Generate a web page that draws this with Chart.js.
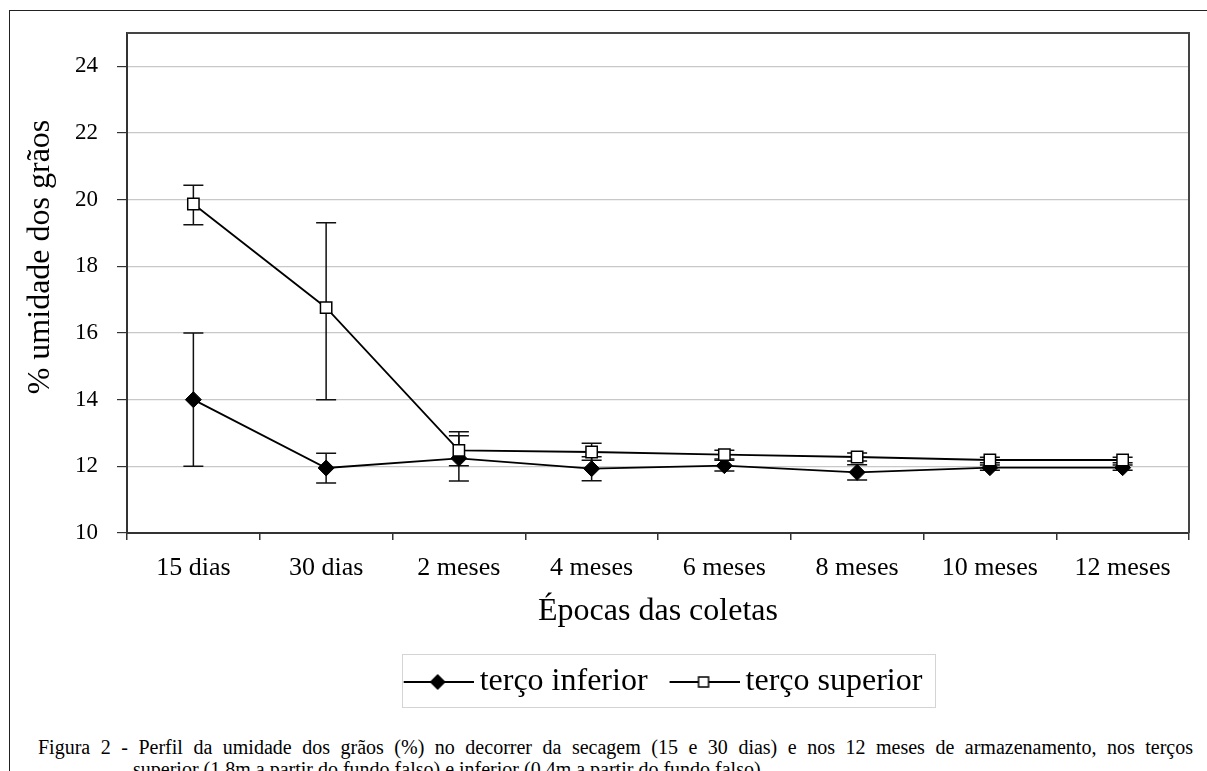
<!DOCTYPE html>
<html lang="pt">
<head>
<meta charset="utf-8">
<title>Perfil da umidade dos grãos</title>
<script src="https://cdn.jsdelivr.net/npm/chart.js@4.4.1/dist/chart.umd.min.js"></script>
<style>
    html, body { margin: 0; padding: 0; background: #fff; }
    body { width: 1207px; height: 771px; position: relative; overflow: hidden; font-family: "Liberation Serif", serif; }
    #frame {
        position: absolute; left: 9px; top: 10px; right: 0; bottom: 0;
        border-top: 1px solid #222; border-left: 1px solid #222;
    }
    #wrap { position: absolute; left: 0; top: 0; width: 1207px; height: 710px; }
    .caption {
        position: absolute; font-family: "Liberation Serif", serif;
        font-size: 20px; line-height: 22px; color: #000; white-space: nowrap;
    }
    #cap1 { left: 38px; top: 736px; width: 1155px; text-align: justify; text-align-last: justify; }
    #cap2 { left: 133px; top: 758px; }
</style>
</head>
<body>
<div id="frame"></div>
<div id="wrap"><canvas id="chart" width="1207" height="710"></canvas></div>
<div id="cap1" class="caption">Figura 2 - Perfil da umidade dos grãos (%) no decorrer da secagem (15 e 30 dias) e nos 12 meses de armazenamento, nos terços</div>
<div id="cap2" class="caption">superior (1,8m a partir do fundo falso) e inferior (0,4m a partir do fundo falso).</div>
<script>
// Data
const categories = ['15 dias', '30 dias', '2 meses', '4 meses', '6 meses', '8 meses', '10 meses', '12 meses'];

const inferior     = [14.0, 11.95, 12.24, 11.93, 12.02, 11.82, 11.96, 11.96];
const inferiorLow  = [12.0, 11.50, 11.56, 11.57, 11.86, 11.59, 11.88, 11.88];
const inferiorHigh = [16.0, 12.39, 12.92, 12.29, 12.18, 12.05, 12.04, 12.04];

const superior     = [19.87, 16.76, 12.48, 12.43, 12.35, 12.28, 12.19, 12.19];
const superiorLow  = [19.25, 14.0, 12.02, 12.18, 12.22, 12.16, 12.11, 12.11];
const superiorHigh = [20.43, 19.31, 13.04, 12.69, 12.48, 12.40, 12.27, 12.27];

const yTicks = [10, 12, 14, 16, 18, 20, 22, 24];
const yTitleText = '% umidade dos grãos';

const serif = 'Liberation Serif';

// Legend samples: short line with the marker in the middle
function legendSample(marker) {
    const c = document.createElement('canvas');
    c.width = 90;
    c.height = 20;
    const g = c.getContext('2d');
    g.strokeStyle = '#000';
    g.lineWidth = 1.8;
    g.beginPath();
    g.moveTo(20, 10);
    g.lineTo(90, 10);
    g.stroke();
    const cx = 54;
    if (marker === 'diamond') {
        g.fillStyle = '#000';
        g.beginPath();
        g.moveTo(cx, 2); g.lineTo(cx + 8, 10); g.lineTo(cx, 18); g.lineTo(cx - 8, 10);
        g.closePath();
        g.fill();
    } else {
        g.fillStyle = '#fff';
        g.lineWidth = 1.5;
        g.fillRect(cx - 5, 5, 10, 10);
        g.strokeRect(cx - 5, 5, 10, 10);
    }
    return c;
}

// Vertical error bars drawn through the chart's own scales
const errorBars = {
    id: 'errorBars',
    beforeDatasetsDraw(chart) {
        const { ctx, scales: { x, y } } = chart;
        ctx.save();
        ctx.strokeStyle = '#111';
        ctx.lineWidth = 1.5;
        [[inferiorLow, inferiorHigh], [superiorLow, superiorHigh]].forEach(([low, high]) => {
            categories.forEach((c, i) => {
                const px = x.getPixelForValue(i);
                const top = y.getPixelForValue(high[i]);
                const bot = y.getPixelForValue(low[i]);
                ctx.beginPath();
                ctx.moveTo(px, top); ctx.lineTo(px, bot);
                ctx.moveTo(px - 10, top); ctx.lineTo(px + 10, top);
                ctx.moveTo(px - 10, bot); ctx.lineTo(px + 10, bot);
                ctx.stroke();
            });
        });
        ctx.restore();
    }
};

// Top and right edges of the plot area, legend frame and the y title
// (the title sits higher than the axis centre in the original)
const frames = {
    id: 'frames',
    beforeDatasetsDraw(chart) {
        const { ctx, chartArea: a } = chart;
        ctx.save();
        ctx.strokeStyle = '#444';
        ctx.lineWidth = 2;
        ctx.beginPath();
        ctx.moveTo(a.left, a.top);
        ctx.lineTo(a.right, a.top);
        ctx.lineTo(a.right, a.bottom);
        ctx.stroke();
        ctx.restore();
    },
    afterDraw(chart) {
        const { ctx, chartArea: a } = chart;

        ctx.save();
        ctx.translate(chart.scales.y.left + 31, a.top + 224);
        ctx.rotate(-Math.PI / 2);
        ctx.font = '32px "Liberation Serif"';
        ctx.fillStyle = '#000';
        ctx.textAlign = 'center';
        ctx.textBaseline = 'middle';
        ctx.fillText(yTitleText, 0, 0);
        ctx.restore();

        const lg = chart.legend;
        const boxes = lg.legendHitBoxes;
        if (!boxes || !boxes.length) return;
        const first = boxes[0];
        const last = boxes[boxes.length - 1];
        const left = first.left + 20 - 12;
        const right = last.left + last.width + 12;
        ctx.save();
        ctx.strokeStyle = '#d4d4d4';
        ctx.lineWidth = 1;
        ctx.strokeRect(Math.round(left) + 0.5, Math.round(lg.top) + 0.5,
            Math.round(right - left), Math.round(lg.bottom - lg.top) - 1);
        ctx.restore();
    }
};

function drawChart() {
    const samples = [legendSample('diamond'), legendSample('square')];
    new Chart(document.getElementById('chart'), {
        type: 'line',
        data: {
            labels: categories,
            datasets: [
                {
                    label: 'terço inferior',
                    data: inferior,
                    order: 1,
                    borderColor: '#000',
                    borderWidth: 1.8,
                    pointStyle: 'rectRot',
                    pointRadius: 8,
                    pointBackgroundColor: '#000',
                    pointBorderColor: '#000',
                    pointBorderWidth: 1,
                    tension: 0,
                    fill: false
                },
                {
                    label: 'terço superior',
                    data: superior,
                    order: 0,
                    borderColor: '#000',
                    borderWidth: 1.8,
                    pointStyle: 'rect',
                    pointRadius: 8,
                    pointBackgroundColor: '#fff',
                    pointBorderColor: '#000',
                    pointBorderWidth: 1.5,
                    tension: 0,
                    fill: false
                }
            ]
        },
        options: {
            responsive: false,
            animation: false,
            layout: { padding: { top: 33, left: 10, right: 18, bottom: 2 } },
            plugins: {
                tooltip: { enabled: false },
                legend: {
                    position: 'bottom',
                    fullSize: false,
                    labels: {
                        usePointStyle: true,
                        pointStyleWidth: 70,
                        padding: 12,
                        color: '#000',
                        font: { family: serif, size: 32 },
                        generateLabels: chart => chart.data.datasets.map((ds, i) => ({
                            text: ds.label,
                            pointStyle: samples[i],
                            datasetIndex: i,
                            fillStyle: '#000',
                            strokeStyle: '#000',
                            lineWidth: 0,
                            hidden: false,
                            fontColor: '#000'
                        }))
                    }
                }
            },
            scales: {
                x: {
                    offset: true,
                    afterFit: s => { s.height = 121; },
                    grid: { drawOnChartArea: false, offset: true, tickLength: 7, tickColor: '#333', lineWidth: 1.5 },
                    border: { color: '#333', width: 2 },
                    ticks: { color: '#000', font: { family: serif, size: 26 }, padding: 13, maxRotation: 0, autoSkip: false },
                    title: {
                        display: true,
                        text: 'Épocas das coletas',
                        color: '#000',
                        font: { family: serif, size: 32 },
                        padding: { top: 0, bottom: 23 }
                    }
                },
                y: {
                    min: 10,
                    max: 25,
                    afterBuildTicks: s => { s.ticks = yTicks.map(v => ({ value: v })); },
                    afterFit: s => { s.width = 117; },
                    grid: { color: '#c8c8c8', lineWidth: 1.2, tickLength: 10, tickColor: '#333' },
                    border: { color: '#333', width: 2 },
                    ticks: { color: '#000', font: { family: serif, size: 23 }, padding: 19 },
                    title: { display: false }
                }
            }
        },
        plugins: [errorBars, frames]
    });
}

Chart.defaults.font.family = serif;
Promise.all([
    document.fonts.load('32px "Liberation Serif"'),
    document.fonts.load('20px "Liberation Serif"')
]).catch(() => {}).then(drawChart);
</script>
</body>
</html>
